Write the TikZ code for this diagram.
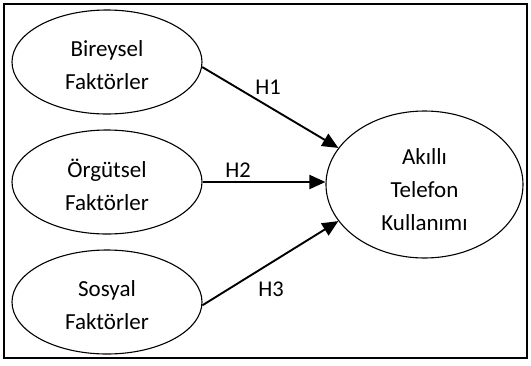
\documentclass[tikz,border=0pt]{standalone}
\usepackage{fontspec}
\setmainfont{Carlito}
\usetikzlibrary{shapes.geometric,arrows.meta}
\begin{document}
\begin{tikzpicture}[x=1pt,y=-1pt,
  factor/.style={draw,ellipse,line width=1.1pt,minimum width=190pt,minimum height=104pt,inner sep=0pt},
  outcome/.style={factor,minimum width=197pt,minimum height=147pt},
  txt/.style={align=center,inner sep=0pt,font=\fontsize{23}{33}\selectfont},
  link/.style={line width=1.9pt,-{Triangle[length=16pt,width=14pt]}},
  hyp/.style={font=\fontsize{22.5}{26}\selectfont,inner sep=0pt}]
\useasboundingbox (0,0) rectangle (531,365);
\node[draw,line width=1.1pt,minimum width=523pt,minimum height=354pt,inner sep=0pt] (frame) at (265.5,181) {};
\node[factor] (b) at (107,62) {};
\node[factor] (o) at (107,182) {};
\node[factor] (s) at (107,302) {};
\node[outcome] (a) at (424.5,184.5) {};
\node[txt] (bt) at ([yshift=-3pt]b.center) {Bireysel\\Faktörler};
\node[txt] (ot) at ([yshift=-3pt]o.center) {Örgütsel\\Faktörler};
\node[txt] (st) at ([yshift=-3pt]s.center) {Sosyal\\Faktörler};
\node[txt] (at) at ([yshift=-5pt]a.center) {Akıllı\\Telefon\\Kullanımı};
\draw[link] (b.-3) -- (a.157);
\draw[link] (o.east) -- (o.east -| a.west);
\draw[link] (s.-2) -- (a.-157);
\node[hyp] (h1) at (268,87) {H1};
\node[hyp] (h2) at (238,170) {H2};
\node[hyp] (h3) at (271,289) {H3};
\end{tikzpicture}
\end{document}
